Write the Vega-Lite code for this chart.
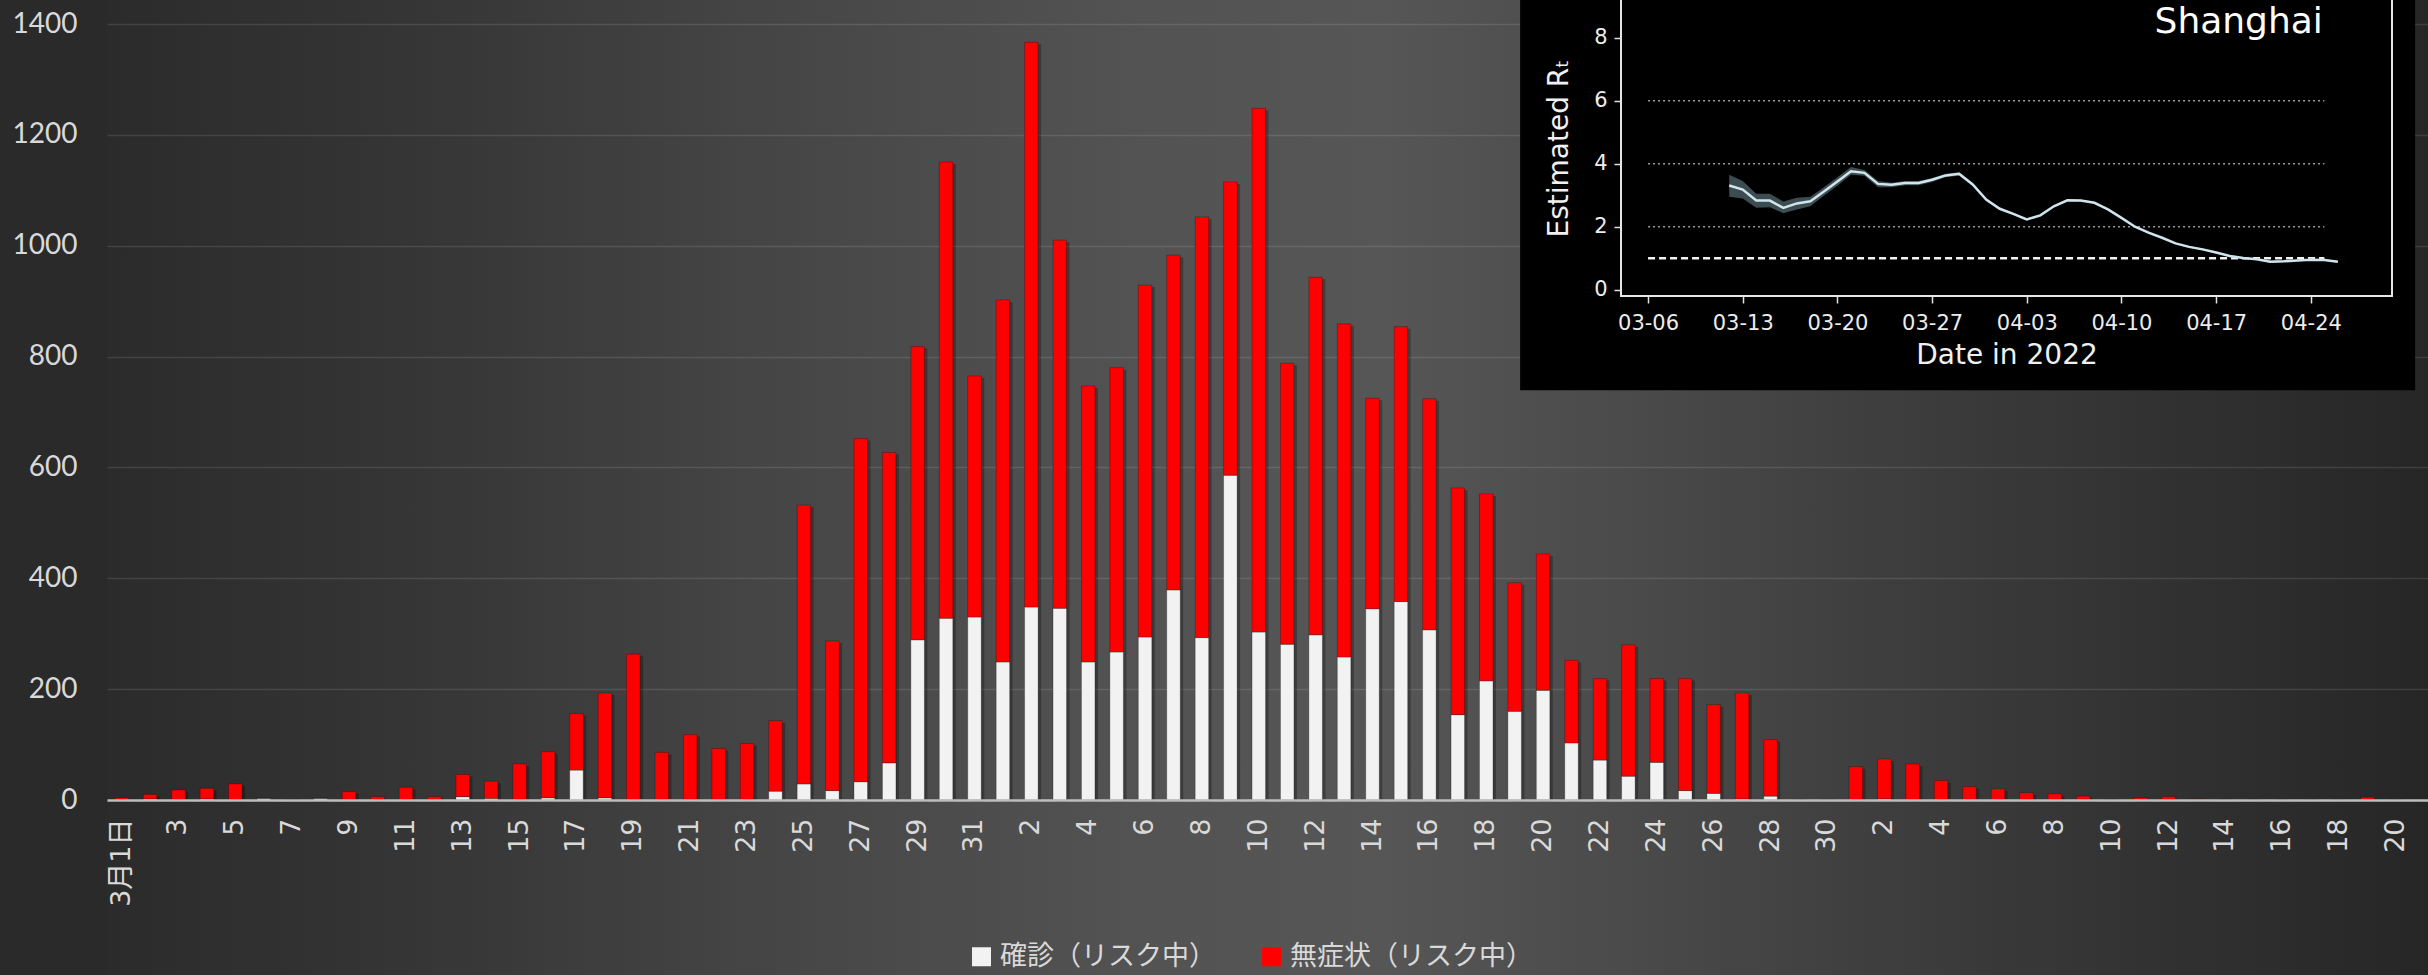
{
  "$schema": "https://vega.github.io/schema/vega-lite/v6.json",
  "width": 2321,
  "height": 975,
  "autosize": "none",
  "padding": {"left": 107, "top": 0, "right": 0, "bottom": 0},
  "background": "#2a2a2a",
  "config": {
    "view": {
      "stroke": null,
      "fill": {
        "gradient": "linear", "x1": 0, "y1": 0, "x2": 1, "y2": 0,
        "stops": [
          {"offset": 0, "color": "#2b2b2b"},
          {"offset": 0.13, "color": "#353535"},
          {"offset": 0.3, "color": "#474747"},
          {"offset": 0.45, "color": "#535353"},
          {"offset": 0.55, "color": "#565656"},
          {"offset": 0.64, "color": "#4c4c4c"},
          {"offset": 0.81, "color": "#393939"},
          {"offset": 1, "color": "#262626"}
        ]
      }
    }
  },
  "layer": [
    {
      "data": {
        "values": [
          {"date": "2022-03-01", "確診（リスク中）": 1, "無症状（リスク中）": 3},
          {"date": "2022-03-02", "確診（リスク中）": 2, "無症状（リスク中）": 8},
          {"date": "2022-03-03", "確診（リスク中）": 1, "無症状（リスク中）": 17},
          {"date": "2022-03-04", "確診（リスク中）": 2, "無症状（リスク中）": 19},
          {"date": "2022-03-05", "確診（リスク中）": 1, "無症状（リスク中）": 28},
          {"date": "2022-03-06", "確診（リスク中）": 3, "無症状（リスク中）": 0},
          {"date": "2022-03-07", "確診（リスク中）": 0, "無症状（リスク中）": 0},
          {"date": "2022-03-08", "確診（リスク中）": 3, "無症状（リスク中）": 0},
          {"date": "2022-03-09", "確診（リスク中）": 1, "無症状（リスク中）": 14},
          {"date": "2022-03-10", "確診（リスク中）": 1, "無症状（リスク中）": 5},
          {"date": "2022-03-11", "確診（リスク中）": 1, "無症状（リスク中）": 22},
          {"date": "2022-03-12", "確診（リスク中）": 1, "無症状（リスク中）": 5},
          {"date": "2022-03-13", "確診（リスク中）": 6, "無症状（リスク中）": 40},
          {"date": "2022-03-14", "確診（リスク中）": 3, "無症状（リスク中）": 31},
          {"date": "2022-03-15", "確診（リスク中）": 1, "無症状（リスク中）": 64},
          {"date": "2022-03-16", "確診（リスク中）": 4, "無症状（リスク中）": 83},
          {"date": "2022-03-17", "確診（リスク中）": 54, "無症状（リスク中）": 102},
          {"date": "2022-03-18", "確診（リスク中）": 4, "無症状（リスク中）": 189},
          {"date": "2022-03-19", "確診（リスク中）": 1, "無症状（リスク中）": 262},
          {"date": "2022-03-20", "確診（リスク中）": 1, "無症状（リスク中）": 85},
          {"date": "2022-03-21", "確診（リスク中）": 1, "無症状（リスク中）": 117},
          {"date": "2022-03-22", "確診（リスク中）": 1, "無症状（リスク中）": 92},
          {"date": "2022-03-23", "確診（リスク中）": 1, "無症状（リスク中）": 101},
          {"date": "2022-03-24", "確診（リスク中）": 16, "無症状（リスク中）": 127},
          {"date": "2022-03-25", "確診（リスク中）": 29, "無症状（リスク中）": 503},
          {"date": "2022-03-26", "確診（リスク中）": 17, "無症状（リスク中）": 270},
          {"date": "2022-03-27", "確診（リスク中）": 33, "無症状（リスク中）": 619},
          {"date": "2022-03-28", "確診（リスク中）": 67, "無症状（リスク中）": 560},
          {"date": "2022-03-29", "確診（リスク中）": 289, "無症状（リスク中）": 529},
          {"date": "2022-03-30", "確診（リスク中）": 328, "無症状（リスク中）": 823},
          {"date": "2022-03-31", "確診（リスク中）": 330, "無症状（リスク中）": 435},
          {"date": "2022-04-01", "確診（リスク中）": 249, "無症状（リスク中）": 653},
          {"date": "2022-04-02", "確診（リスク中）": 348, "無症状（リスク中）": 1019},
          {"date": "2022-04-03", "確診（リスク中）": 346, "無症状（リスク中）": 664},
          {"date": "2022-04-04", "確診（リスク中）": 249, "無症状（リスク中）": 498},
          {"date": "2022-04-05", "確診（リスク中）": 267, "無症状（リスク中）": 513},
          {"date": "2022-04-06", "確診（リスク中）": 294, "無症状（リスク中）": 635},
          {"date": "2022-04-07", "確診（リスク中）": 379, "無症状（リスク中）": 604},
          {"date": "2022-04-08", "確診（リスク中）": 293, "無症状（リスク中）": 759},
          {"date": "2022-04-09", "確診（リスク中）": 586, "無症状（リスク中）": 529},
          {"date": "2022-04-10", "確診（リスク中）": 303, "無症状（リスク中）": 945},
          {"date": "2022-04-11", "確診（リスク中）": 281, "無症状（リスク中）": 507},
          {"date": "2022-04-12", "確診（リスク中）": 298, "無症状（リスク中）": 645},
          {"date": "2022-04-13", "確診（リスク中）": 258, "無症状（リスク中）": 601},
          {"date": "2022-04-14", "確診（リスク中）": 345, "無症状（リスク中）": 380},
          {"date": "2022-04-15", "確診（リスク中）": 358, "無症状（リスク中）": 496},
          {"date": "2022-04-16", "確診（リスク中）": 307, "無症状（リスク中）": 417},
          {"date": "2022-04-17", "確診（リスク中）": 154, "無症状（リスク中）": 409},
          {"date": "2022-04-18", "確診（リスク中）": 215, "無症状（リスク中）": 337},
          {"date": "2022-04-19", "確診（リスク中）": 160, "無症状（リスク中）": 232},
          {"date": "2022-04-20", "確診（リスク中）": 198, "無症状（リスク中）": 246},
          {"date": "2022-04-21", "確診（リスク中）": 103, "無症状（リスク中）": 149},
          {"date": "2022-04-22", "確診（リスク中）": 72, "無症状（リスク中）": 147},
          {"date": "2022-04-23", "確診（リスク中）": 43, "無症状（リスク中）": 237},
          {"date": "2022-04-24", "確診（リスク中）": 68, "無症状（リスク中）": 151},
          {"date": "2022-04-25", "確診（リスク中）": 17, "無症状（リスク中）": 202},
          {"date": "2022-04-26", "確診（リスク中）": 12, "無症状（リスク中）": 160},
          {"date": "2022-04-27", "確診（リスク中）": 2, "無症状（リスク中）": 191},
          {"date": "2022-04-28", "確診（リスク中）": 7, "無症状（リスク中）": 102},
          {"date": "2022-04-29", "確診（リスク中）": 0, "無症状（リスク中）": 0},
          {"date": "2022-04-30", "確診（リスク中）": 0, "無症状（リスク中）": 0},
          {"date": "2022-05-01", "確診（リスク中）": 1, "無症状（リスク中）": 59},
          {"date": "2022-05-02", "確診（リスク中）": 2, "無症状（リスク中）": 72},
          {"date": "2022-05-03", "確診（リスク中）": 1, "無症状（リスク中）": 64},
          {"date": "2022-05-04", "確診（リスク中）": 1, "無症状（リスク中）": 34},
          {"date": "2022-05-05", "確診（リスク中）": 1, "無症状（リスク中）": 23},
          {"date": "2022-05-06", "確診（リスク中）": 1, "無症状（リスク中）": 19},
          {"date": "2022-05-07", "確診（リスク中）": 1, "無症状（リスク中）": 12},
          {"date": "2022-05-08", "確診（リスク中）": 1, "無症状（リスク中）": 10},
          {"date": "2022-05-09", "確診（リスク中）": 1, "無症状（リスク中）": 6},
          {"date": "2022-05-10", "確診（リスク中）": 0, "無症状（リスク中）": 0},
          {"date": "2022-05-11", "確診（リスク中）": 1, "無症状（リスク中）": 3},
          {"date": "2022-05-12", "確診（リスク中）": 1, "無症状（リスク中）": 5},
          {"date": "2022-05-13", "確診（リスク中）": 1, "無症状（リスク中）": 1},
          {"date": "2022-05-14", "確診（リスク中）": 0, "無症状（リスク中）": 0},
          {"date": "2022-05-15", "確診（リスク中）": 0, "無症状（リスク中）": 0},
          {"date": "2022-05-16", "確診（リスク中）": 0, "無症状（リスク中）": 0},
          {"date": "2022-05-17", "確診（リスク中）": 0, "無症状（リスク中）": 0},
          {"date": "2022-05-18", "確診（リスク中）": 0, "無症状（リスク中）": 0},
          {"date": "2022-05-19", "確診（リスク中）": 1, "無症状（リスク中）": 4},
          {"date": "2022-05-20", "確診（リスク中）": 0, "無症状（リスク中）": 0}
        ]
      },
      "transform": [
        {"fold": ["確診（リスク中）", "無症状（リスク中）"], "as": ["series", "value"]}
      ],
      "encoding": {
        "x": {
          "field": "date", "type": "ordinal",
          "scale": {"paddingInner": 0.525, "paddingOuter": 0.5825, "align": 0.237},
          "axis": {
            "orient": "bottom", "offset": -175, "zindex": 1,
            "title": null, "ticks": false,
            "domain": true, "domainColor": "#bdbdbd", "domainWidth": 2.5,
            "labelAngle": -90, "labelAlign": "right", "labelBaseline": "middle",
            "labelPadding": 18,
            "labelFont": "DejaVu Sans, Noto Sans CJK JP", "labelFontSize": 27, "labelColor": "#d9d9d9",
            "labelOverlap": false, "labelFlush": false,
            "values": ["2022-03-01","2022-03-03","2022-03-05","2022-03-07","2022-03-09","2022-03-11","2022-03-13","2022-03-15","2022-03-17","2022-03-19","2022-03-21","2022-03-23","2022-03-25","2022-03-27","2022-03-29","2022-03-31","2022-04-02","2022-04-04","2022-04-06","2022-04-08","2022-04-10","2022-04-12","2022-04-14","2022-04-16","2022-04-18","2022-04-20","2022-04-22","2022-04-24","2022-04-26","2022-04-28","2022-04-30","2022-05-02","2022-05-04","2022-05-06","2022-05-08","2022-05-10","2022-05-12","2022-05-14","2022-05-16","2022-05-18","2022-05-20"],
            "labelExpr": "datum.value == '2022-03-01' ? '3月1日' : '' + toNumber(slice(datum.value, 8, 10))"
          }
        },
        "y": {
          "field": "value", "type": "quantitative", "stack": "zero",
          "scale": {"domain": [-315.72, 1443.3], "nice": false, "zero": false},
          "axis": {
            "orient": "left", "title": null, "ticks": false, "domain": false,
            "values": [0, 200, 400, 600, 800, 1000, 1200, 1400], "format": "d",
            "grid": true, "gridColor": "#ffffff", "gridOpacity": 0.11, "gridWidth": 1.5,
            "labelFont": "Lato", "labelFontSize": 28, "labelColor": "#d9d9d9", "labelPadding": 30
          }
        },
        "order": {"field": "series", "sort": "descending"}
      },
      "layer": [
        {
          "mark": {"type": "bar", "fill": "#000000", "opacity": 0.28, "xOffset": 3, "yOffset": 2},
          "encoding": {"detail": {"field": "series"}}
        },
        {
          "mark": {"type": "bar", "stroke": "#000000", "strokeOpacity": 0.25, "strokeWidth": 1},
          "encoding": {
            "color": {
              "field": "series", "type": "nominal",
              "scale": {"domain": ["確診（リスク中）", "無症状（リスク中）"], "range": ["#f2f2f2", "#ff0000"]},
              "legend": {
                "orient": "none", "legendX": 861, "legendY": 943, "direction": "horizontal",
                "title": null, "symbolType": "square", "symbolSize": 361, "symbolStrokeWidth": 0,
                "labelFont": "Noto Sans CJK JP", "labelFontSize": 27, "labelColor": "#d9d9d9",
                "labelOffset": 5, "columnPadding": 42, "labelLimit": 0
              }
            }
          }
        }
      ]
    },
    {
      "layer": [
        {
          "data": {"values": [{}]},
          "mark": {"type": "rect", "fill": "#000000"},
          "encoding": {
            "x": {"datum": {"year": 2022, "month": 2, "date": 24, "hours": 13, "utc": true}, "type": "temporal"},
            "x2": {"datum": {"year": 2022, "month": 5, "date": 1, "hours": 17, "utc": true}},
            "y": {"datum": -3.19, "type": "quantitative"},
            "y2": {"datum": 9.8}
          }
        },
        {
          "data": {"values": [{"v": 2}, {"v": 4}, {"v": 6}]},
          "mark": {"type": "rule", "color": "#9a9a9a", "strokeWidth": 1.5, "strokeDash": [2, 3]},
          "encoding": {
            "x": {"datum": {"year": 2022, "month": 3, "date": 6, "utc": true}, "type": "temporal"},
            "x2": {"datum": {"year": 2022, "month": 4, "date": 25, "utc": true}},
            "y": {"field": "v", "type": "quantitative"}
          }
        },
        {
          "data": {"values": [{"v": 1}]},
          "mark": {"type": "rule", "color": "#f2f2f2", "strokeWidth": 2.5, "strokeDash": [7, 4]},
          "encoding": {
            "x": {"datum": {"year": 2022, "month": 3, "date": 6, "utc": true}, "type": "temporal"},
            "x2": {"datum": {"year": 2022, "month": 4, "date": 25, "utc": true}},
            "y": {"field": "v", "type": "quantitative"}
          }
        },
        {
          "data": {"name": "rt", "values": [
            {"d": "2022-03-12", "rt": 3.31, "lo": 2.95, "hi": 3.65},
            {"d": "2022-03-13", "rt": 3.18, "lo": 2.90, "hi": 3.45},
            {"d": "2022-03-14", "rt": 2.83, "lo": 2.60, "hi": 3.05},
            {"d": "2022-03-15", "rt": 2.83, "lo": 2.62, "hi": 3.05},
            {"d": "2022-03-16", "rt": 2.60, "lo": 2.43, "hi": 2.80},
            {"d": "2022-03-17", "rt": 2.74, "lo": 2.55, "hi": 2.92},
            {"d": "2022-03-18", "rt": 2.81, "lo": 2.65, "hi": 2.95},
            {"d": "2022-03-19", "rt": 3.12, "lo": 2.98, "hi": 3.25},
            {"d": "2022-03-20", "rt": 3.44, "lo": 3.30, "hi": 3.57},
            {"d": "2022-03-21", "rt": 3.76, "lo": 3.65, "hi": 3.90},
            {"d": "2022-03-22", "rt": 3.71, "lo": 3.62, "hi": 3.80},
            {"d": "2022-03-23", "rt": 3.36, "lo": 3.25, "hi": 3.45},
            {"d": "2022-03-24", "rt": 3.33, "lo": 3.25, "hi": 3.40},
            {"d": "2022-03-25", "rt": 3.39, "lo": 3.32, "hi": 3.45},
            {"d": "2022-03-26", "rt": 3.39, "lo": 3.32, "hi": 3.45},
            {"d": "2022-03-27", "rt": 3.49, "lo": 3.42, "hi": 3.55},
            {"d": "2022-03-28", "rt": 3.63, "lo": 3.57, "hi": 3.68},
            {"d": "2022-03-29", "rt": 3.68, "lo": 3.62, "hi": 3.73},
            {"d": "2022-03-30", "rt": 3.34, "lo": 3.29, "hi": 3.39},
            {"d": "2022-03-31", "rt": 2.86, "lo": 2.82, "hi": 2.90},
            {"d": "2022-04-01", "rt": 2.57, "lo": 2.53, "hi": 2.61},
            {"d": "2022-04-02", "rt": 2.41, "lo": 2.38, "hi": 2.44},
            {"d": "2022-04-03", "rt": 2.23, "lo": 2.20, "hi": 2.26},
            {"d": "2022-04-04", "rt": 2.36, "lo": 2.33, "hi": 2.39},
            {"d": "2022-04-05", "rt": 2.65, "lo": 2.62, "hi": 2.68},
            {"d": "2022-04-06", "rt": 2.84, "lo": 2.81, "hi": 2.87},
            {"d": "2022-04-07", "rt": 2.83, "lo": 2.80, "hi": 2.86},
            {"d": "2022-04-08", "rt": 2.76, "lo": 2.73, "hi": 2.79},
            {"d": "2022-04-09", "rt": 2.55, "lo": 2.52, "hi": 2.58},
            {"d": "2022-04-10", "rt": 2.28, "lo": 2.25, "hi": 2.31},
            {"d": "2022-04-11", "rt": 2.00, "lo": 1.97, "hi": 2.03},
            {"d": "2022-04-12", "rt": 1.81, "lo": 1.78, "hi": 1.84},
            {"d": "2022-04-13", "rt": 1.65, "lo": 1.62, "hi": 1.68},
            {"d": "2022-04-14", "rt": 1.47, "lo": 1.44, "hi": 1.50},
            {"d": "2022-04-15", "rt": 1.36, "lo": 1.33, "hi": 1.39},
            {"d": "2022-04-16", "rt": 1.28, "lo": 1.25, "hi": 1.31},
            {"d": "2022-04-17", "rt": 1.18, "lo": 1.15, "hi": 1.21},
            {"d": "2022-04-18", "rt": 1.07, "lo": 1.04, "hi": 1.10},
            {"d": "2022-04-19", "rt": 1.01, "lo": 0.98, "hi": 1.04},
            {"d": "2022-04-20", "rt": 0.97, "lo": 0.94, "hi": 1.00},
            {"d": "2022-04-21", "rt": 0.89, "lo": 0.86, "hi": 0.92},
            {"d": "2022-04-22", "rt": 0.90, "lo": 0.87, "hi": 0.93},
            {"d": "2022-04-23", "rt": 0.93, "lo": 0.90, "hi": 0.96},
            {"d": "2022-04-24", "rt": 0.95, "lo": 0.92, "hi": 0.98},
            {"d": "2022-04-25", "rt": 0.94, "lo": 0.91, "hi": 0.97},
            {"d": "2022-04-26", "rt": 0.89, "lo": 0.86, "hi": 0.92}
          ]},
          "layer": [
            {
              "mark": {"type": "area", "color": "#3c4c50", "opacity": 1},
              "encoding": {
                "x": {"field": "d", "type": "temporal"},
                "y": {"field": "lo", "type": "quantitative"},
                "y2": {"field": "hi"}
              }
            },
            {
              "mark": {"type": "line", "color": "#cfe4ec", "strokeWidth": 2.5},
              "encoding": {
                "x": {
                  "field": "d", "type": "temporal",
                  "scale": {
                    "type": "utc",
                    "domain": [{"year": 2022, "month": 3, "date": 4, "utc": true}, {"year": 2022, "month": 4, "date": 30, "utc": true}],
                    "range": [1514, 2285]
                  },
                  "axis": {
                    "orient": "bottom", "offset": -679, "zindex": 1,
                    "values": [
                      {"year": 2022, "month": 3, "date": 6, "utc": true},
                      {"year": 2022, "month": 3, "date": 13, "utc": true},
                      {"year": 2022, "month": 3, "date": 20, "utc": true},
                      {"year": 2022, "month": 3, "date": 27, "utc": true},
                      {"year": 2022, "month": 4, "date": 3, "utc": true},
                      {"year": 2022, "month": 4, "date": 10, "utc": true},
                      {"year": 2022, "month": 4, "date": 17, "utc": true},
                      {"year": 2022, "month": 4, "date": 24, "utc": true}
                    ],
                    "format": "%m-%d", "grid": false, "domain": false,
                    "tickColor": "#e0e0e0", "tickSize": 7, "tickWidth": 1.5,
                    "labelFont": "DejaVu Sans", "labelFontSize": 21, "labelColor": "#ececec",
                    "labelPadding": 9, "labelFlush": false, "labelOverlap": false,
                    "title": "Date in 2022", "titleFont": "DejaVu Sans", "titleFontSize": 28,
                    "titleFontWeight": "normal", "titleColor": "#f0f0f0", "titlePadding": 8
                  }
                },
                "y": {
                  "field": "rt", "type": "quantitative",
                  "scale": {"domain": [-0.2, 9.2], "range": [296, 0], "nice": false, "zero": false},
                  "axis": {
                    "orient": "left", "offset": -1514, "zindex": 1,
                    "values": [0, 2, 4, 6, 8], "format": "d", "grid": false, "domain": false,
                    "tickColor": "#e0e0e0", "tickSize": 7, "tickWidth": 1.5,
                    "labelFont": "DejaVu Sans", "labelFontSize": 21, "labelColor": "#ececec",
                    "labelPadding": 7,
                    "title": "Estimated Rₜ", "titleFont": "DejaVu Sans", "titleFontSize": 28,
                    "titleFontWeight": "normal", "titleColor": "#f0f0f0", "titlePadding": 20
                  }
                }
              }
            }
          ]
        },
        {
          "data": {"values": [{}]},
          "mark": {"type": "rect", "fill": null, "fillOpacity": 0, "stroke": "#e6e6e6", "strokeWidth": 2},
          "encoding": {
            "x": {"datum": {"year": 2022, "month": 3, "date": 4, "utc": true}, "type": "temporal"},
            "x2": {"datum": {"year": 2022, "month": 4, "date": 30, "utc": true}},
            "y": {"datum": -0.2, "type": "quantitative"},
            "y2": {"datum": 9.6}
          }
        },
        {
          "data": {"values": [{"label": "Shanghai"}]},
          "mark": {"type": "text", "font": "DejaVu Sans", "fontSize": 36, "color": "#ffffff", "align": "center", "baseline": "alphabetic"},
          "encoding": {
            "x": {"datum": {"year": 2022, "month": 4, "date": 18, "hours": 16, "utc": true}, "type": "temporal"},
            "y": {"datum": 8.16, "type": "quantitative"},
            "text": {"field": "label"}
          }
        }
      ]
    }
  ],
  "resolve": {
    "scale": {"x": "independent", "y": "independent", "color": "independent"},
    "axis": {"x": "independent", "y": "independent"}
  }
}
